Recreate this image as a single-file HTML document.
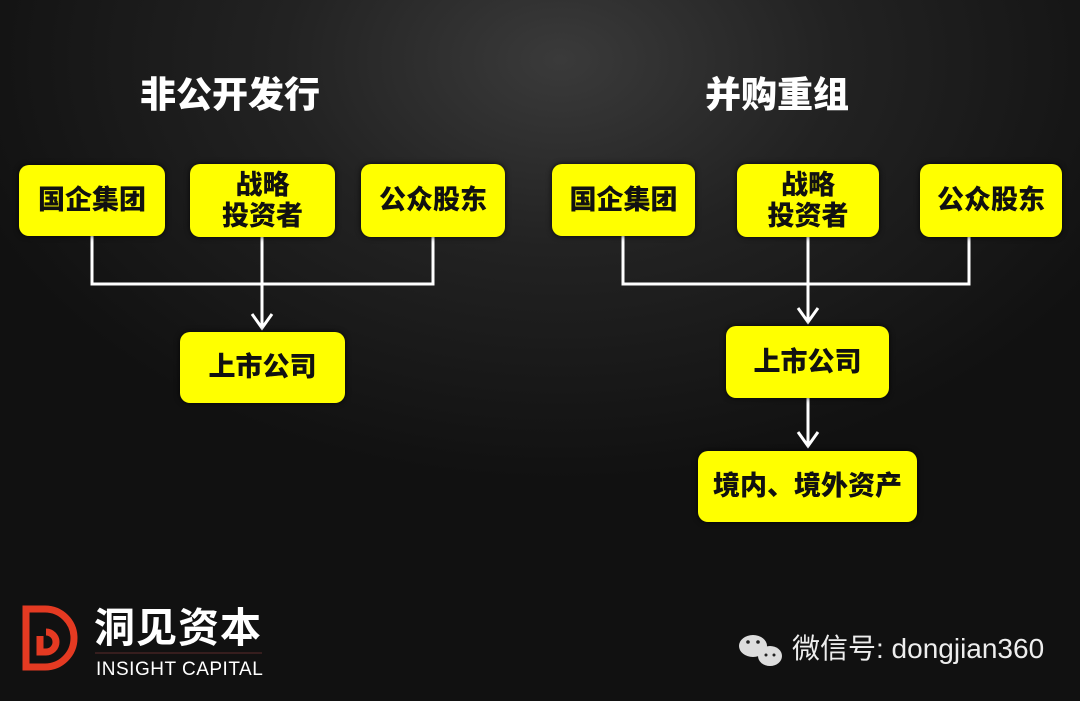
<!DOCTYPE html>
<html><head><meta charset="utf-8">
<style>
html,body{margin:0;padding:0}
body{width:1080px;height:701px;overflow:hidden;position:relative;
background:radial-gradient(ellipse 620px 420px at 560px 60px,#3a3a3a 0%,#222 45%,#111 100%);
font-family:"Liberation Sans","Noto Sans CJK SC",sans-serif;}
.t{position:absolute;color:#fff;font-weight:900;font-size:36px;text-align:center;width:300px;line-height:40px}
.b{position:absolute;background:#ffff00;border-radius:10px;box-shadow:0 0 6px rgba(0,0,0,.8);
display:flex;align-items:center;justify-content:center;text-align:center;color:#111;font-weight:900;font-size:27px;line-height:31px}
svg{position:absolute;left:0;top:0}
</style></head><body>
<div class="t" style="left:80px;top:75px">非公开发行</div>
<div class="t" style="left:627px;top:75px">并购重组</div>

<svg width="1080" height="701">
<g stroke="#fff" stroke-width="3" fill="none">
<polyline points="92,236 92,284 433,284 433,236"/>
<line x1="262" y1="236" x2="262" y2="328"/>
<polyline points="252,314 262,328 272,314"/>
<polyline points="623,236 623,284 969,284 969,236"/>
<line x1="808" y1="236" x2="808" y2="322"/>
<polyline points="798,308 808,322 818,308"/>
<line x1="808" y1="398" x2="808" y2="446"/>
<polyline points="798,432 808,446 818,432"/>
</g>
<g fill="none" stroke="#e43a22" stroke-width="7">
<path d="M26,609 H45 A29,29 0 0 1 45,667 H26 Z"/>
<path d="M40,636 V652 H46 A10,10 0 1 0 46,632"/>
</g>
<line x1="95" y1="653" x2="262" y2="653" stroke="#5a2a2a" stroke-width="1"/>
<g fill="#ddd">
<ellipse cx="753" cy="646" rx="14" ry="11"/>
<ellipse cx="770" cy="656" rx="12" ry="10"/>
</g>
<g fill="#222"><circle cx="748" cy="642" r="1.8"/><circle cx="758" cy="642" r="1.8"/><circle cx="766" cy="655" r="1.5"/><circle cx="774" cy="655" r="1.5"/></g>
</svg>

<div class="b" style="left:19px;top:165px;width:146px;height:71px">国企集团</div>
<div class="b" style="left:190px;top:164px;width:145px;height:73px">战略<br>投资者</div>
<div class="b" style="left:361px;top:164px;width:144px;height:73px">公众股东</div>
<div class="b" style="left:180px;top:332px;width:165px;height:71px">上市公司</div>

<div class="b" style="left:552px;top:164px;width:143px;height:72px">国企集团</div>
<div class="b" style="left:737px;top:164px;width:142px;height:73px">战略<br>投资者</div>
<div class="b" style="left:920px;top:164px;width:142px;height:73px">公众股东</div>
<div class="b" style="left:726px;top:326px;width:163px;height:72px">上市公司</div>
<div class="b" style="left:698px;top:451px;width:219px;height:71px">境内、境外资产</div>

<div style="position:absolute;left:94px;top:604px;color:#fff;font-size:41px;line-height:48px;letter-spacing:1px;font-weight:bold">洞见资本</div>
<div style="position:absolute;left:96px;top:659px;color:#fff;font-size:19px;line-height:22px;letter-spacing:0.5px">INSIGHT CAPITAL</div>
<div style="position:absolute;left:792px;top:632px;color:#eee;font-size:28px;line-height:34px">微信号: dongjian360</div>
</body></html>
